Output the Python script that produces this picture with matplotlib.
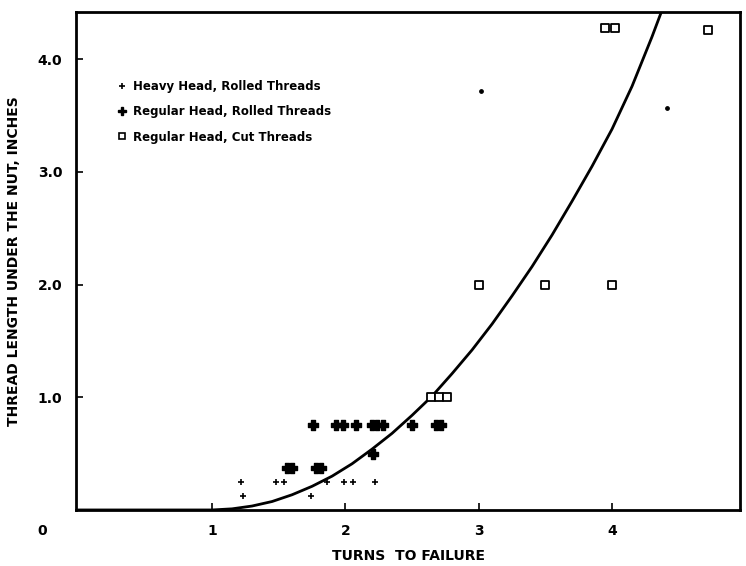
import matplotlib
matplotlib.use("Agg")
import matplotlib.pyplot as plt
from matplotlib.lines import Line2D

# Heavy Head, Rolled Threads (small +)
heavy_x = [1.22, 1.48, 1.54, 1.86, 1.99, 2.06, 2.22, 1.23, 1.74]
heavy_y = [0.25, 0.25, 0.25, 0.25, 0.25, 0.25, 0.25, 0.125, 0.125]

# Regular Head, Rolled Threads (bold +)
reg_rolled_x = [1.76, 1.93, 1.98, 2.08, 2.20, 2.24, 2.28, 2.50, 2.68, 2.72,
                1.56, 1.60, 1.78, 1.82, 2.21]
reg_rolled_y = [0.75, 0.75, 0.75, 0.75, 0.75, 0.75, 0.75, 0.75, 0.75, 0.75,
                0.375, 0.375, 0.375, 0.375, 0.5]

# Regular Head, Cut Threads (open squares)
cut_x = [2.64, 2.70, 2.76, 3.0, 3.5, 4.0, 3.95, 4.02, 4.72]
cut_y = [1.0, 1.0, 1.0, 2.0, 2.0, 2.0, 4.28, 4.28, 4.26]

# isolated small dots
dot_x = [3.02, 4.41]
dot_y = [3.72, 3.57]

# fitted curve
curve_x = [0.0, 1.0, 1.15, 1.3, 1.45, 1.6, 1.75, 1.9, 2.05, 2.2, 2.35, 2.5, 2.65,
           2.8, 2.95, 3.1, 3.25, 3.4, 3.55, 3.7, 3.85, 4.0, 4.15, 4.3, 4.37, 4.42]
curve_y = [0.0, 0.0, 0.01, 0.035, 0.075, 0.135, 0.21, 0.30, 0.41, 0.54, 0.68,
           0.84, 1.01, 1.21, 1.42, 1.65, 1.90, 2.16, 2.44, 2.74, 3.05, 3.38,
           3.76, 4.20, 4.42, 4.58]

xticks = [1, 2, 3, 4]
xticklabels = ["1", "2", "3", "4"]
yticks = [1.0, 2.0, 3.0, 4.0]
yticklabels = ["1.0", "2.0", "3.0", "4.0"]

legend_labels = ["Heavy Head, Rolled Threads",
                 "Regular Head, Rolled Threads",
                 "Regular Head, Cut Threads"]

fig = plt.figure(figsize=(7.46, 5.66), dpi=100)
ax = fig.add_axes([0.102, 0.099, 0.89, 0.88])

ax.plot(curve_x, curve_y, color="black", lw=2.0, zorder=2)
ax.scatter(heavy_x, heavy_y, marker="+", s=22, color="black", linewidths=1.2, zorder=3)
ax.scatter(reg_rolled_x, reg_rolled_y, marker="P", s=45, color="black", zorder=3)
ax.scatter(cut_x, cut_y, marker="s", s=28, facecolors="white", edgecolors="black",
           linewidths=1.3, zorder=3)
ax.scatter(dot_x, dot_y, marker="o", s=6, color="black", zorder=3)

ax.set_xlim(-0.02, 4.96)
ax.set_ylim(0, 4.42)
ax.set_xticks(xticks)
ax.set_xticklabels(xticklabels, fontsize=10, fontweight="bold")
ax.set_yticks(yticks)
ax.set_yticklabels(yticklabels, fontsize=10, fontweight="bold")
ax.tick_params(direction="in", length=5, width=1.2, pad=10)
for s in ax.spines.values():
    s.set_linewidth(2.0)

fig.text(42 / 746, 1 - 531 / 566, "0", fontsize=10, fontweight="bold",
         ha="center", va="center")

ax.set_xlabel("TURNS  TO FAILURE", fontsize=10, fontweight="bold", labelpad=8)
ax.set_ylabel("THREAD LENGTH UNDER THE NUT, INCHES", fontsize=10,
              fontweight="bold", labelpad=12)

handles = [
    Line2D([], [], ls="none", marker="+", markersize=5, color="black", mew=1.2),
    Line2D([], [], ls="none", marker="P", markersize=6, color="black"),
    Line2D([], [], ls="none", marker="s", markersize=5, mfc="white", mec="black", mew=1.2),
]
leg = ax.legend(handles, legend_labels, loc="upper left",
                bbox_to_anchor=(0.045, 0.885), frameon=False,
                prop={"size": 8.5, "weight": "bold"}, handletextpad=0.4,
                handlelength=1.0, labelspacing=1.05)

fig.savefig("out.png", dpi=100)
